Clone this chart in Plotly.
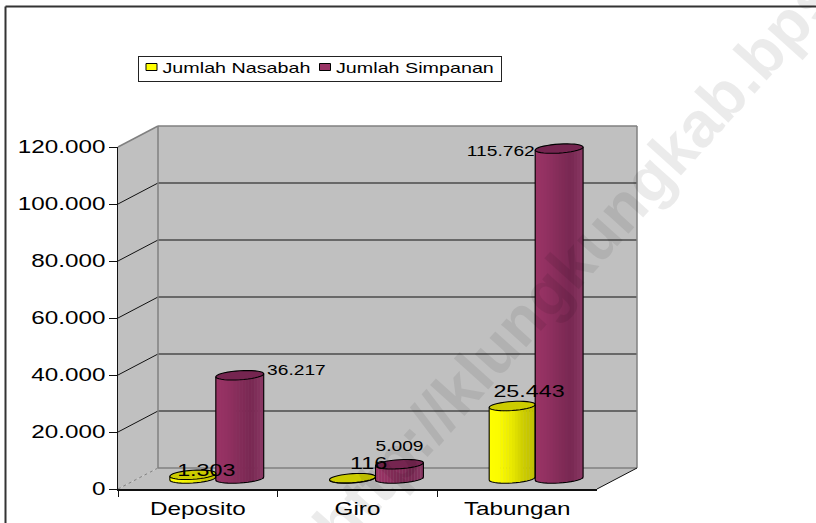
import math
import plotly.graph_objects as go

# ---- data ----
categories = ["Deposito", "Giro", "Tabungan"]
jumlah_nasabah = [1303, 116, 25443]
jumlah_simpanan = [36217, 5009, 115762]
series_names = ["Jumlah Nasabah", "Jumlah Simpanan"]
y_ticks = [0, 20000, 40000, 60000, 80000, 100000, 120000]
watermark = "http://klungkungkab.bps.go.id"

# ---- layout constants (pixels) ----
W, H = 816, 523
AX_L, AX_R, AX_T, AX_B = 118, 597, 147, 489
DX, DY = 40, 21            # depth of the box
BAR_DX, BAR_DY = 18, 10.5  # where the cylinders sit inside the depth
Y_MAX = 120000
Y2_MIN = -4000             # room below zero for the round cylinder bases
PX_PER_UNIT = (AX_B - AX_T) / Y_MAX
CYL_B = 4.5 * 1 / PX_PER_UNIT  # half height of the ellipse, value units
CYL_K = 1.5 / PX_PER_UNIT  # tilt of the ellipse
FONT = "Liberation Sans"
N_STRIPS = 16


def px(x):
    return x / W


def py(y):
    return 1 - y / H


def lerp_colors(stops, t):
    n = len(stops) - 1
    i = min(int(t * n), n - 1)
    f = t * n - i
    a, b = stops[i], stops[i + 1]
    return "rgb(%d,%d,%d)" % tuple(round(a[c] + (b[c] - a[c]) * f) for c in range(3))


PURPLE = [(154, 52, 102), (146, 49, 97), (132, 44, 89), (120, 40, 82), (138, 56, 100)]
YELLOW = [(255, 255, 0), (250, 250, 0), (232, 232, 0), (205, 205, 0), (190, 190, 0)]
STYLE = [
    dict(stops=YELLOW, top="#cccc00", off=-0.144, a=0.144),
    dict(stops=PURPLE, top="#752550", off=0.15, a=0.15),
]
series = [jumlah_nasabah, jumlah_simpanan]
xs = list(range(len(categories)))

fig = go.Figure()

# invisible trace so the category axis has its categories
fig.add_trace(go.Scatter(x=categories, y=[None] * 3, mode="markers", showlegend=False,
                         hoverinfo="skip", xaxis="x", yaxis="y"))

# cylinders: each one is a stack of narrow bars drawn through the axes
for vals, st, name in zip(series, STYLE, series_names):
    strip_w = 2 * st["a"] / N_STRIPS
    for s in range(N_STRIPS):
        t = (s + 0.5) / N_STRIPS
        u = 2 * t - 1
        dip = CYL_B * math.sqrt(max(0, 1 - u * u))
        fig.add_trace(go.Bar(
            x=xs, y=[v + dip for v in vals], base=-dip + CYL_K * u,
            width=strip_w * 1.12, offset=st["off"] - st["a"] + s * strip_w - strip_w * 0.06,
            marker=dict(color=lerp_colors(st["stops"], t), line=dict(width=0)),
            showlegend=False, hoverinfo="skip",
            xaxis="x2", yaxis="y2"))
    # legend key (lies outside the axis range, only its swatch is seen)
    fig.add_trace(go.Bar(x=[-5], y=[0], name=name,
                         marker=dict(color=lerp_colors(st["stops"], 0),
                                     line=dict(color="#000", width=1)),
                         hoverinfo="skip", xaxis="x2", yaxis="y2"))

shapes = []


def line(x0, y0, x1, y1, color, width=1, dash=None):
    shapes.append(dict(type="line", xref="paper", yref="paper", layer="below",
                       x0=px(x0), y0=py(y0), x1=px(x1), y1=py(y1),
                       line=dict(color=color, width=width, dash=dash)))


def poly(points, fill):
    path = "M" + "L".join(f"{px(a):.5f},{py(b):.5f}" for a, b in points) + "Z"
    shapes.append(dict(type="path", xref="paper", yref="paper", layer="below", path=path,
                       fillcolor=fill, line=dict(width=0)))


# box: back wall, side wall, floor
BK_L, BK_R, BK_T, BK_B = AX_L + DX, AX_R + DX, AX_T - DY, AX_B - DY
WALL = "#c0c0c0"
poly([(BK_L, BK_T), (BK_R, BK_T), (BK_R, BK_B), (BK_L, BK_B)], WALL)
poly([(AX_L, AX_T), (BK_L, BK_T), (BK_L, BK_B), (AX_L, AX_B)], WALL)
poly([(AX_L, AX_B), (BK_L, BK_B), (BK_R, BK_B), (AX_R, AX_B)], WALL)
for v in y_ticks[1:-1]:
    yf = AX_B - v * PX_PER_UNIT
    line(AX_L, yf, BK_L, yf - DY, "#111")
    line(BK_L, yf - DY, BK_R, yf - DY, "#111")
line(AX_L, AX_T, BK_L, BK_T, "#808080", 1.5)
line(BK_L, BK_T, BK_R, BK_T, "#808080", 1.5)
line(BK_L, BK_T, BK_L, BK_B, "#808080", 1.5)
line(BK_R, BK_T, BK_R, BK_B, "#808080", 1.5)
line(BK_L, BK_B, BK_R, BK_B, "#808080", 1.5)
line(AX_L, AX_B, BK_L, BK_B, "#808080", 1, "dot")
line(AX_R, AX_B, BK_R, BK_B, "#111", 1)

# outer frame of the picture: only left and top edges are visible
line(5.5, 6.5, 5.5, H, "#333", 2)
line(5.5, 6.5, W, 6.5, "#333", 2)

# cylinder outlines and top faces, computed from the values
for vals, st in zip(series, STYLE):
    A = st["a"]
    for i, v in zip(xs, vals):
        cx = i + st["off"]
        angles = [2 * math.pi * k / 36 for k in range(36)]
        top = [(cx + A * math.cos(a), v + CYL_B * math.sin(a) + CYL_K * math.cos(a)) for a in angles]
        bottom = [(cx - A * math.cos(a), -CYL_B * math.sin(a) - CYL_K * math.cos(a))
                  for a in [math.pi * k / 18 for k in range(19)]]
        body = [(cx - A, v - CYL_K)] + bottom + [(cx + A, v + CYL_K)]
        shapes.append(dict(type="path", xref="x2", yref="y2", layer="above",
                           path="M" + "L".join(f"{a:.4f},{b:.1f}" for a, b in body),
                           line=dict(color="#000", width=1.1)))
        shapes.append(dict(type="path", xref="x2", yref="y2", layer="above",
                           path="M" + "L".join(f"{a:.4f},{b:.1f}" for a, b in top) + "Z",
                           fillcolor=st["top"], line=dict(color="#000", width=1.1)))

# data labels
annotations = []
label_shift = [
    [(14, 3.8), (16, 15), (17, 14)],
    [(57, 5.6), (0.5, 18), (-58, -2.3)],
]
label_size = [17, 14]
for vals, st, shifts, size in zip(series, STYLE, label_shift, label_size):
    for i, v, (sx, sy) in zip(xs, vals, shifts):
        annotations.append(dict(
            x=i + st["off"], y=v, xref="x2", yref="y2", showarrow=False,
            text=f"{v:,}".replace(",", "."), xshift=sx, yshift=sy,
            xanchor="center", yanchor="middle",
            font=dict(family=FONT, size=size, color="#000")))

# watermark
annotations.append(dict(
    x=px(632), y=py(197), xref="paper", yref="paper", showarrow=False, text=watermark,
    textangle=-48, xanchor="center", yanchor="middle",
    font=dict(family=FONT, size=64, color="rgba(0,0,0,0.08)", weight="bold")))

fig.update_layout(
    width=W, height=H, autosize=False,
    margin=dict(l=0, r=0, t=0, b=0, autoexpand=False),
    paper_bgcolor="white", plot_bgcolor="rgba(0,0,0,0)",
    barmode="overlay", separators=",.",
    shapes=shapes, annotations=annotations,
    font=dict(family=FONT, color="#000"),
    hovermode=False,
    showlegend=True,
    legend=dict(
        orientation="h", x=px(137.5), y=py(55.5), xanchor="left", yanchor="top",
        bgcolor="white", bordercolor="#222", borderwidth=1,
        font=dict(family=FONT, size=14.4, color="#000"),
        entrywidth=136, entrywidthmode="pixels", traceorder="normal",
    ),
    xaxis=dict(
        domain=[px(AX_L), px(AX_R)], type="category", categoryorder="array",
        categoryarray=categories, range=[-0.5, 2.5], tickson="boundaries",
        ticks="outside", ticklen=6, tickcolor="#111", showline=True, linecolor="#111",
        linewidth=2, showgrid=False, zeroline=False, anchor="y", ticklabelstandoff=3,
        tickfont=dict(family=FONT, size=17.7, color="#000"),
    ),
    yaxis=dict(
        domain=[py(AX_B), py(AX_T)], range=[0, Y_MAX], tickvals=y_ticks, tickformat=",d",
        ticks="outside", ticklen=8, tickcolor="#111", showline=True, linecolor="#111",
        linewidth=1, showgrid=False, zeroline=False, anchor="x",
        tickfont=dict(family=FONT, size=17.7, color="#000"),
    ),
    xaxis2=dict(domain=[px(AX_L + BAR_DX), px(AX_R + BAR_DX)], range=[-0.5, 2.5],
                visible=False, anchor="y2"),
    yaxis2=dict(domain=[py(AX_B - BAR_DY - Y2_MIN * PX_PER_UNIT), py(AX_T - BAR_DY)],
                range=[Y2_MIN, Y_MAX], visible=False, anchor="x2"),
)

post = """
document.documentElement.style.margin = '0';
document.documentElement.style.overflow = 'hidden';
document.body.style.margin = '0';
document.body.style.padding = '0';
var gd = document.getElementById('{plot_id}');
function tune() {
  gd.querySelectorAll('.xtick text,.ytick text,.annotation-text,.legendtext').forEach(function (el) {
    if (parseFloat(el.style.fontSize) > 40) return;
    el.removeAttribute('textLength');
    el.setAttribute('textLength', el.getComputedTextLength() * 1.37);
    el.setAttribute('lengthAdjust', 'spacingAndGlyphs');
  });
  gd.querySelectorAll('.legend .legendtext').forEach(function (el) { el.setAttribute('x', 25); });
  gd.querySelectorAll('.legend .legendsymbols path').forEach(function (el) {
    el.setAttribute('d', 'M-5.5,-3.5H5.5V3.5H-5.5Z');
    el.setAttribute('transform', 'translate(14,0)');
  });
  var bg = gd.querySelector('.legend .bg');
  if (bg) { bg.setAttribute('height', 25.5); bg.setAttribute('width', 363.5); }
  gd.querySelectorAll('.legend .traces').forEach(function (el, i) {
    el.setAttribute('transform', 'translate(' + (i * 173.5) + ',' + 11.5 + ')');
  });
}
tune();
"""
fig.write_html("out.html", post_script=post, config=dict(displayModeBar=False))
